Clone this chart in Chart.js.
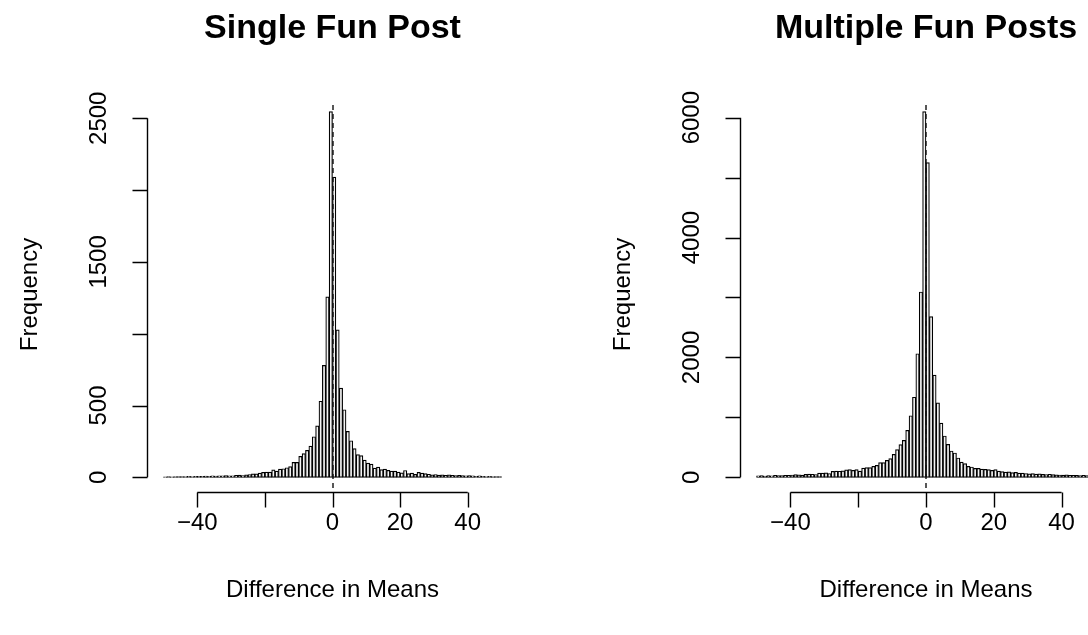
<!DOCTYPE html>
<html>
<head>
<meta charset="utf-8">
<script src="https://cdn.jsdelivr.net/npm/chart.js@4.4.3/dist/chart.umd.min.js"></script>
<style>
  html, body { margin: 0; padding: 0; background: #fff; overflow: hidden; }
  #wrap { position: relative; width: 1088px; height: 635px; overflow: hidden; }
  .panel { position: absolute; top: 0; height: 635px; }
  #p1 { left: 0; width: 544px; }
  #p2 { left: 544px; width: 600px; }
</style>
</head>
<body>
<div id="wrap">
  <div class="panel" id="p1"><canvas id="singleChart"></canvas></div>
  <div class="panel" id="p2"><canvas id="multiChart"></canvas></div>
</div>
<script>
// histogram bins: [-50,-49), ..., [49,50)
const binStarts = Array.from({ length: 100 }, (_, i) => i - 50);

// Single Fun Post counts
const singleCounts = [
  4, 5, 4, 6, 5, 5, 6, 7, 6, 8,
  7, 7, 9, 8, 10, 9, 11, 10, 12, 11,
  10, 14, 16, 13, 17, 20, 25, 24, 30, 35,
  37, 37, 53, 44, 58, 60, 67, 75, 105, 104,
  146, 165, 188, 218, 283, 358, 530, 780, 1257, 2546,
  2090, 1027, 622, 471, 320, 255, 200, 158, 152, 120,
  100, 92, 65, 72, 54, 57, 49, 44, 43, 37,
  31, 48, 26, 30, 21, 35, 30, 26, 22, 18,
  20, 16, 18, 14, 17, 14, 12, 15, 12, 10,
  12, 10, 8, 10, 8, 6, 8, 6, 5, 5
];

// Multiple Fun Posts counts
const multiCounts = [
  25, 28, 22, 30, 27, 32, 28, 30, 35, 32,
  40, 45, 42, 38, 50, 55, 52, 48, 70, 72,
  75, 65, 100, 105, 102, 110, 125, 130, 117, 128,
  106, 156, 162, 162, 184, 200, 245, 245, 284, 312,
  384, 462, 546, 618, 785, 1028, 1337, 2062, 3092, 6100,
  5250, 2680, 1705, 1242, 905, 690, 552, 440, 407, 323,
  256, 228, 184, 173, 150, 150, 139, 134, 128, 117,
  128, 106, 95, 88, 92, 80, 85, 70, 72, 65,
  60, 62, 55, 58, 50, 48, 52, 45, 42, 40,
  38, 42, 35, 33, 36, 30, 32, 28, 30, 27
];

const xTicks = [-40, -20, 0, 20, 40];
const xTickLabels = ["\u221240", "", "0", "20", "40"];
const singleYTicks = [0, 500, 1000, 1500, 2000, 2500];
const singleYLabels = ["0", "500", "", "1500", "", "2500"];
const multiYTicks = [0, 1000, 2000, 3000, 4000, 5000, 6000];
const multiYLabels = ["0", "", "2000", "", "4000", "", "6000"];

const FONT = "'Liberation Sans', Arial, Helvetica, sans-serif";

// R-style axes, titles and the dashed zero line
const rAxes = {
  id: "rAxes",
  afterDatasetsDraw(chart, args, opts) {
    const { ctx, chartArea: a, scales: { x, y } } = chart;
    ctx.save();
    ctx.strokeStyle = "#000";
    ctx.fillStyle = "#000";
    ctx.lineWidth = 1.4;

    // dashed line at 0
    ctx.save();
    ctx.setLineDash([5, 4]);
    ctx.strokeStyle = "#111";
    const x0 = Math.round(x.getPixelForValue(0));
    ctx.beginPath();
    ctx.moveTo(x0, a.top + 8);
    ctx.lineTo(x0, a.bottom);
    ctx.stroke();
    ctx.restore();

    // x axis
    const xb = Math.round(a.bottom) + 0.5;
    const xl = x.getPixelForValue(xTicks[0]);
    const xr = x.getPixelForValue(xTicks[xTicks.length - 1]);
    ctx.beginPath();
    ctx.moveTo(xl, xb);
    ctx.lineTo(xr, xb);
    xTicks.forEach((v) => {
      const px = Math.round(x.getPixelForValue(v)) + 0.5;
      ctx.moveTo(px, xb);
      ctx.lineTo(px, xb + 15);
    });
    ctx.stroke();
    ctx.font = `24px ${FONT}`;
    ctx.textAlign = "center";
    ctx.textBaseline = "middle";
    xTicks.forEach((v, i) => {
      if (xTickLabels[i]) ctx.fillText(xTickLabels[i], x.getPixelForValue(v), xb + 31);
    });

    // y axis
    const yl = Math.round(a.left) - 2.5;
    const ticks = opts.yTicks;
    ctx.beginPath();
    ctx.moveTo(yl, y.getPixelForValue(ticks[0]));
    ctx.lineTo(yl, y.getPixelForValue(ticks[ticks.length - 1]));
    ticks.forEach((v) => {
      const py = Math.round(y.getPixelForValue(v)) + 0.5;
      ctx.moveTo(yl, py);
      ctx.lineTo(yl - 15, py);
    });
    ctx.stroke();
    ticks.forEach((v, i) => {
      if (!opts.yLabels[i]) return;
      ctx.save();
      ctx.translate(yl - 48, y.getPixelForValue(v));
      ctx.rotate(-Math.PI / 2);
      ctx.fillText(opts.yLabels[i], 0, 0);
      ctx.restore();
    });

    // axis titles
    const cx = (a.left + a.right) / 2;
    const cy = (a.top + a.bottom) / 2;
    ctx.fillText("Difference in Means", cx, xb + 98);
    ctx.save();
    ctx.translate(a.left - 120, cy);
    ctx.rotate(-Math.PI / 2);
    ctx.fillText("Frequency", 0, 0);
    ctx.restore();

    // main title
    ctx.font = `bold 34px ${FONT}`;
    ctx.fillText(opts.title, cx, 29);
    ctx.restore();
  }
};

function histogram(canvasId, counts, title, yTicks, yLabels, padding) {
  const peak = Math.max(...counts);
  const data = counts.map((c, i) => ({ x: binStarts[i] + 0.5, y: c }));
  return new Chart(document.getElementById(canvasId), {
    type: "bar",
    data: {
      datasets: [{
        data,
        backgroundColor: "#f4f4f4",
        borderColor: "#000",
        borderWidth: 1.2,
        borderSkipped: false,
        barPercentage: 1,
        categoryPercentage: 1
      }]
    },
    options: {
      responsive: true,
      maintainAspectRatio: false,
      animation: false,
      layout: { padding },
      plugins: {
        legend: { display: false },
        tooltip: { enabled: false },
        rAxes: { title, yTicks, yLabels }
      },
      scales: {
        x: { type: "linear", min: -54, max: 54, offset: false, display: false },
        y: { min: -0.04 * peak, max: 1.04 * peak, display: false }
      }
    },
    plugins: [rAxes]
  });
}

histogram("singleChart", singleCounts, "Single Fun Post", singleYTicks, singleYLabels,
  { left: 150, right: 29, top: 97, bottom: 143 });
histogram("multiChart", multiCounts, "Multiple Fun Posts", multiYTicks, multiYLabels,
  { left: 199, right: 35, top: 97, bottom: 143 });
</script>
</body>
</html>
